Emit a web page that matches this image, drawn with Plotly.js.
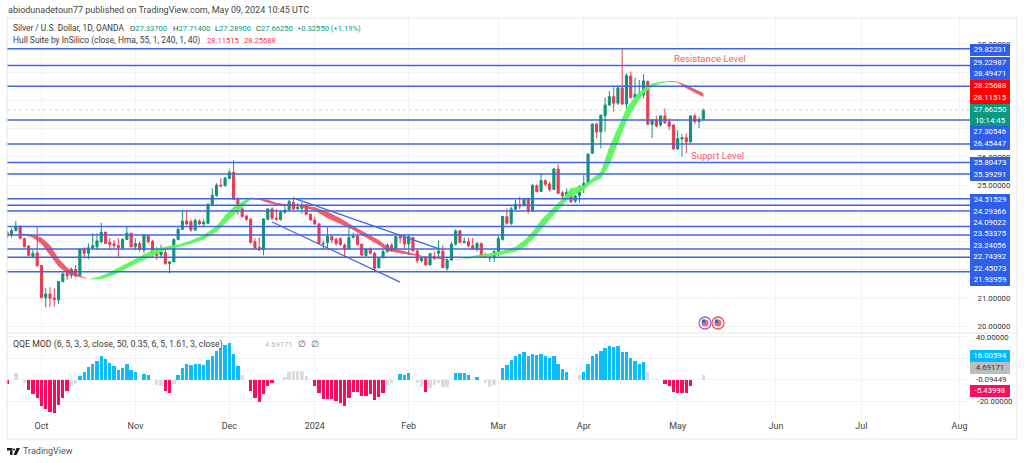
<!DOCTYPE html>
<html>
<head>
<meta charset="utf-8">
<script src="https://cdn.plot.ly/plotly-3.0.1.min.js"></script>
<style>
  html, body { margin: 0; padding: 0; background: #fff; }
  #chart { width: 1024px; height: 463px; }
</style>
</head>
<body>
<div id="chart"></div>
<script>
// values, one entry per trading day
const opens = [23.32,23.23,23.39,23.53,23.11,22.85,22.49,22.60,22.16,21.02,21.15,21.01,20.94,21.59,21.88,21.81,22.02,21.81,22.73,22.59,
  22.78,22.82,22.99,23.34,22.97,22.93,22.87,22.78,23.08,23.30,22.82,22.94,22.71,23.20,23.01,22.62,22.53,22.62,22.23,22.29,
  23.08,23.44,23.73,23.71,23.41,23.73,23.63,23.65,24.30,24.63,25.00,24.98,25.24,25.45,24.50,24.16,23.91,23.80,23.00,22.80,
  22.73,23.79,24.16,23.83,23.79,24.04,24.12,24.39,24.17,24.18,24.30,23.97,23.77,23.63,22.92,22.97,23.18,23.08,23.12,22.88,
  22.74,23.15,23.20,22.91,22.51,22.73,22.59,22.08,22.44,22.65,22.88,22.77,23.18,23.15,22.92,23.15,22.67,22.33,22.45,22.18,
  22.47,22.59,22.67,22.06,22.35,22.91,23.39,22.97,23.00,22.86,22.73,22.94,22.49,22.42,22.47,22.65,23.08,23.89,23.65,24.15,
  24.30,24.28,24.50,24.10,24.98,24.78,25.16,25.04,24.85,25.57,24.73,24.63,24.65,24.44,24.63,24.95,25.07,26.13,27.16,26.89,
  27.46,27.84,28.13,27.90,28.44,27.87,28.86,28.10,28.19,28.19,28.67,27.15,27.31,27.13,27.45,27.24,27.13,26.28,26.63,26.68,
  26.53,27.45,27.25,27.337]
const highs = [23.41,23.47,23.74,23.59,23.15,22.88,22.71,23.51,22.18,21.35,21.39,21.35,21.61,21.94,22.00,22.09,22.18,22.77,22.80,22.94,
  23.30,23.30,23.67,23.35,23.15,23.06,23.12,23.12,23.56,23.32,23.12,23.00,23.27,23.24,23.06,22.82,22.88,22.71,22.29,23.12,
  23.51,24.10,24.10,23.79,23.83,23.79,23.79,24.36,24.89,25.07,25.24,25.30,25.54,25.89,24.57,24.22,23.94,23.83,23.12,23.15,
  23.83,24.18,24.22,24.15,24.12,24.30,24.48,24.57,24.36,24.42,24.32,24.00,23.89,23.65,23.04,23.51,23.20,23.15,23.15,22.94,
  23.53,23.32,23.30,22.94,22.77,22.80,22.65,22.45,22.71,22.94,22.94,23.20,23.27,23.27,23.24,23.18,22.71,22.47,22.49,22.61,
  22.65,23.04,22.88,22.41,23.00,23.44,23.41,23.15,23.15,23.14,22.99,22.97,22.61,22.49,22.71,23.20,23.92,24.18,24.24,24.48,
  24.59,24.53,24.57,25.03,25.03,25.40,25.21,25.12,25.62,25.74,24.80,24.89,24.89,24.65,25.00,25.36,26.13,27.19,27.21,27.48,
  28.10,28.33,28.46,28.54,29.85,28.96,29.02,28.80,28.72,28.93,28.70,27.33,27.45,27.48,27.71,27.36,27.15,26.95,26.81,26.83,
  27.47,27.52,27.42,27.714]
const lows = [23.12,23.15,23.38,23.08,22.80,22.47,22.41,22.12,21.00,20.68,20.70,20.70,20.80,21.56,21.65,21.70,21.74,21.76,22.41,22.38,
  22.73,22.71,22.94,22.92,22.71,22.77,22.47,22.71,23.06,22.80,22.71,22.65,22.59,22.94,22.45,22.35,22.41,22.18,21.88,22.27,
  23.04,23.41,23.59,23.35,23.38,23.59,23.56,23.63,24.26,24.59,24.92,24.95,25.21,24.48,23.94,23.85,23.74,22.94,22.74,22.68,
  22.52,23.77,23.77,23.74,23.74,24.00,24.10,24.10,24.12,24.00,23.94,23.74,23.59,22.92,22.71,22.77,22.94,22.86,22.85,22.47,
  22.71,23.12,22.87,22.49,22.47,22.55,21.98,22.05,22.40,22.61,22.64,22.74,22.94,22.73,22.53,22.65,22.23,22.28,22.16,22.14,
  22.35,22.41,22.05,21.98,22.33,22.86,22.94,22.94,22.80,22.71,22.65,22.47,22.41,22.28,22.29,22.49,23.04,23.60,23.58,24.12,
  24.15,24.24,24.00,24.07,24.75,24.76,24.97,24.77,24.83,24.69,24.42,24.53,24.36,24.36,24.38,24.71,25.04,26.10,26.66,26.30,
  26.89,27.80,27.60,27.84,27.84,27.60,28.07,28.07,28.13,28.07,27.13,26.66,27.05,27.07,27.16,26.95,26.26,26.25,26.01,26.13,
  26.50,27.16,27.01,27.289]
const closes = [23.20,23.39,23.53,23.12,22.82,22.52,22.59,22.15,21.02,21.15,21.00,20.95,21.59,21.86,21.79,22.02,21.79,22.73,22.59,22.79,
  22.86,23.03,23.34,22.94,22.90,22.86,22.79,23.08,23.30,22.82,22.93,22.73,23.24,23.00,22.62,22.51,22.64,22.23,22.29,23.08,
  23.44,23.73,23.63,23.41,23.75,23.63,23.69,24.32,24.64,25.00,24.97,25.25,25.45,24.50,24.15,23.89,23.79,22.97,22.79,22.71,
  23.80,24.16,23.83,23.79,24.04,24.12,24.42,24.16,24.22,24.30,23.97,23.77,23.63,22.94,22.94,23.18,23.06,22.94,22.90,22.73,
  23.15,23.20,22.90,22.53,22.73,22.59,22.06,22.41,22.65,22.88,22.71,23.18,23.13,22.92,23.18,22.68,22.33,22.44,22.18,22.58,
  22.41,22.67,22.09,22.35,22.91,23.38,22.98,23.01,22.86,22.74,22.94,22.49,22.45,22.45,22.65,23.12,23.89,23.65,24.16,24.33,
  24.26,24.50,24.09,25.00,24.77,25.16,25.03,24.85,25.57,24.71,24.62,24.75,24.42,24.62,24.95,25.07,26.10,27.16,26.88,27.48,
  27.84,28.13,27.90,28.44,27.87,28.87,28.10,28.21,28.23,28.69,27.15,27.31,27.09,27.45,27.21,27.09,26.28,26.65,26.68,26.53,
  27.45,27.25,27.32,27.6625]

// Hull Suite band, sampled along its length
const hullRedAIdx = [3,6,8,10,12,14,16,19]
const hullRedAUp = [23.30,23.25,23.15,22.88,22.41,22.09,21.88,21.67]
const hullRedALo = [23.27,23.15,22.92,22.53,22.12,21.88,21.79,21.67]
const hullGreenAIdx = [19,22,25,28,31,34,37,40,43,46,49,51,53,55,57]
const hullGreenAUp = [21.67,21.79,22.00,22.23,22.47,22.71,22.82,22.90,23.04,23.24,23.56,23.94,24.24,24.42,24.56]
const hullGreenALo = [21.67,21.67,21.82,22.06,22.29,22.49,22.71,22.80,22.92,23.08,23.35,23.63,23.94,24.22,24.50]
const hullRedBIdx = [57,59,61,63,65,68,72,75,78,81,84,87,89,92,95,98,101,104]
const hullRedBUp = [24.56,24.53,24.48,24.38,24.33,24.32,24.22,24.06,23.83,23.56,23.30,23.06,22.82,22.71,22.59,22.47,22.44,22.35]
const hullRedBLo = [24.51,24.48,24.38,24.30,24.27,24.26,24.10,23.83,23.63,23.41,23.15,22.88,22.68,22.59,22.52,22.45,22.40,22.35]
const hullGreenBIdx = [104,107,110,113,116,119,121,123,125,128,130,132,135,137,139,141,143,145,147,149,151,153,155]
const hullGreenBUp = [22.35,22.41,22.53,22.59,22.68,22.82,23.04,23.35,23.77,24.24,24.53,24.89,25.00,25.24,25.48,26.36,27.07,27.72,28.13,28.43,28.60,28.66,28.69]
const hullGreenBLo = [22.35,22.38,22.45,22.49,22.55,22.65,22.80,23.08,23.41,23.94,24.30,24.59,24.83,25.09,25.24,25.71,26.48,27.25,27.78,28.23,28.46,28.60,28.66]
const hullRedCIdx = [155,157,159,161,163]
const hullRedCUp = [28.69,28.66,28.54,28.39,28.25688]
const hullRedCLo = [28.66,28.63,28.43,28.27,28.11515]

// support / resistance drawings
const levels = [29.82231,29.22987,28.49471,27.30546,26.45447,25.80473,25.39291,24.51529,24.29366,24.09022,23.53375,23.24056,22.74392,22.45073,21.93959]
const lastPrice = 27.6625
const channelTopIdx = [66.9,101.3]
const channelTop = [24.55,22.74]
const channelBottomIdx = [62,92]
const channelBottom = [23.70,21.57]

// QQE MOD histogram, kind: b blue, r red, g grey, - no bar
const qqeValues = [-3.7,null,5.9,null,-3.4,-10,-13.7,-17.4,-24.6,-27.7,-29.9,-31.5,-24,-17.4,-10.9,-5.9,-4.4,3.4,7.5,11.8,
  14.3,17.8,22.1,19,15.3,12.8,9,10.9,14.3,9,7.5,null,5.3,4.7,null,-5,-5.9,-10.3,-12.1,-4,
  4,10.6,15,14,14.6,14.3,14,18.4,22.4,26.8,29.6,32.7,34.6,23.7,13.1,4,null,-10.6,-16.8,-20.9,
  -13.4,-5.9,-2.8,null,null,2.8,7.5,7.8,7.8,7.8,3.7,null,-5.9,-12.8,-18.4,-18.4,-18.4,-19.6,-22,-24.3,
  -16.8,-11.2,-11.8,-15,-15,-13.7,-19,-16.5,-12.1,-5,-3.4,null,5.3,4.4,5.9,null,-3.4,-7.2,-11.2,-8.1,
  -5,-3.4,-7.2,-7.2,null,5.9,5.9,5.9,4.4,null,2.8,null,-3,-6.5,-5,null,11.2,13.7,18.4,22.4,
  24,26.2,22.1,24,22.7,23.7,22.4,19.9,22.1,14.6,9.7,6.9,null,null,4,6.9,14.6,22.1,24,27.1,
  29.3,31.5,30.8,31.5,26.2,26.2,20.6,17.4,14.6,16.2,6.9,null,null,null,-4,-5.9,-11.8,-12.1,-12.1,-12.8,
  -5.44,null,null,4.69171]
const qqeKinds = ['r-g-g','rrrrrrrrrr','gg','bbbbbbbbbbbbbb','-','bb','-','gg','rr','g','bbbbbbbbbbbbbbb','g','-','rrrrrr','--','gggggg','-',
  'rrrrrrrrrrrrrrrrr','gg','-','bbb','-','gg','r','ggggg','-','bbbb','-','b','-','ggg','-','bbbbbbbbbbbbbbbb','--','g','bbbbbbbbbbbbbbb','g','---','rrrrrrr','--','g'].join('')

// time axis: trading day index of each month start
const monthIdx = [8,30,52,72,94,115,135,157,180,200,223]
const monthLabels = ['Oct','Nov','Dec','2024','Feb','Mar','Apr','May','Jun','Jul','Aug']

const priceTicks = [20,21,22,23,24,25,26,27,28,29,30]
const priceTickText = ['20.00000','21.00000','','','','25.00000','26.00000','','','','30.00000']
const qqeTicks = [40,20,0,-20]
const qqeTickText = ['','','','-20.00000']

// right scale tags: text, centre pixel, background
const blue = '#2f5fea'
const scaleTags = [
  ['29.82231',50,blue],['29.22987',62.7,blue],['28.49471',74.3,blue],
  ['28.25688',86,'#ff0000'],['28.11515',97.7,'#ff0000'],
  ['27.66250<br>10:14:45',115,'#089981'],
  ['27.30546',131.7,blue],['26.45447',144.3,blue],['25.80473',163,blue],['25.39291',175,blue],
  ['24.51529',200,blue],['24.29366',211.5,blue],['24.09022',223,blue],['23.53375',234.4,blue],
  ['23.24056',246,blue],['22.74392',257.2,blue],['22.45073',268.7,blue],['21.93959',280,blue],
  ['16.00594',356,'#00bcff'],['4.69171',368,'#bdbdbd'],['-5.43998',391,'#ff0a60']
]

const textFont = 'Roboto, sans-serif'
const valueSize = 7.6
const scaleSize = 7.8
const pxX = x => (x - 7) / 963
const pxY = y => (419 - y) / 401

function note(text, x, y, size, color, anchor) {
  return { text: text, xref: 'paper', yref: 'paper', x: pxX(x), y: pxY(y), xanchor: anchor || 'left', yanchor: 'middle',
    showarrow: false, borderpad: 0, font: { family: textFont, size: size, color: color } }
}

function band(idx, up, lo, color) {
  return {
    x: idx.concat(idx.slice().reverse()),
    y: up.concat(lo.slice().reverse()),
    type: 'scatter', mode: 'lines', fill: 'toself', fillcolor: color,
    line: { width: 0 }, hoverinfo: 'skip', xaxis: 'x', yaxis: 'y'
  }
}

const dayIdx = closes.map((c, i) => i)
const hullRed = 'rgba(240,65,80,0.85)'
const hullGreen = 'rgba(90,245,90,0.95)'

const traces = [
  {
    x: dayIdx, open: opens, high: highs, low: lows, close: closes,
    type: 'candlestick', xaxis: 'x', yaxis: 'y', whiskerwidth: 0, hoverinfo: 'skip',
    increasing: { line: { color: '#0f9279', width: 1 }, fillcolor: '#0f9279' },
    decreasing: { line: { color: '#ea3a50', width: 1 }, fillcolor: '#ea3a50' }
  },
  band(hullRedAIdx, hullRedAUp, hullRedALo, hullRed),
  band(hullGreenAIdx, hullGreenAUp, hullGreenALo, hullGreen),
  band(hullRedBIdx, hullRedBUp, hullRedBLo, hullRed),
  band(hullGreenBIdx, hullGreenBUp, hullGreenBLo, hullGreen),
  band(hullRedCIdx, hullRedCUp, hullRedCLo, hullRed),
  { x: channelTopIdx, y: channelTop, type: 'scatter', mode: 'lines', line: { color: '#3f66e0', width: 1.2 }, hoverinfo: 'skip' },
  { x: channelBottomIdx, y: channelBottom, type: 'scatter', mode: 'lines', line: { color: '#3f66e0', width: 1.2 }, hoverinfo: 'skip' },
  {
    x: dayIdx, y: qqeValues, type: 'bar', xaxis: 'x', yaxis: 'y2', width: 0.78, hoverinfo: 'skip',
    marker: { color: qqeValues.map((v, i) => ({ b: '#0ebcfc', r: '#fb0a60', g: '#dcdcdc' })[qqeKinds[i]] || '#ffffff'), line: { width: 0 } }
  }
]

const shapes = levels.map(v => ({
  type: 'line', xref: 'paper', yref: 'y', x0: 0, x1: 1, y0: v, y1: v, line: { color: '#3f66e0', width: 1.5 }
}))
shapes.push({ type: 'line', xref: 'paper', yref: 'y', x0: 0, x1: 1, y0: lastPrice, y1: lastPrice, line: { color: '#a6dccf', width: 0.8, dash: 'dot' } })
// chart frame and pane divider
shapes.push({ type: 'rect', xref: 'paper', yref: 'paper', x0: 0, x1: pxX(1017), y0: pxY(439), y1: pxY(18), line: { color: '#e6e6e6', width: 1 } })
shapes.push({ type: 'line', xref: 'paper', yref: 'paper', x0: 0, x1: pxX(1017), y0: pxY(333), y1: pxY(333), line: { color: '#e6e6e6', width: 1 } })
// currency icons on the time line
const iconRings = [[705, '#a45cc8'], [718, '#f0505a']]
iconRings.forEach(r => {
  shapes.push({ type: 'circle', xref: 'paper', yref: 'paper', x0: pxX(r[0] - 6), x1: pxX(r[0] + 6), y0: pxY(329), y1: pxY(317), fillcolor: '#ffffff', line: { color: r[1], width: 1.3 } })
  shapes.push({ type: 'circle', xref: 'paper', yref: 'paper', x0: pxX(r[0] - 3.5), x1: pxX(r[0] + 3.5), y0: pxY(326.5), y1: pxY(319.5), fillcolor: '#e86a70', line: { width: 0 } })
  shapes.push({ type: 'rect', xref: 'paper', yref: 'paper', x0: pxX(r[0] - 3), x1: pxX(r[0]), y0: pxY(323), y1: pxY(319.5), fillcolor: '#3f62c8', line: { width: 0 } })
})
// TradingView mark
const logoDark = '#1a1a1a'
shapes.push({ type: 'rect', xref: 'paper', yref: 'paper', x0: pxX(7), x1: pxX(12.5), y0: pxY(450.5), y1: pxY(448), fillcolor: logoDark, line: { width: 0 } })
shapes.push({ type: 'rect', xref: 'paper', yref: 'paper', x0: pxX(10), x1: pxX(12.5), y0: pxY(455), y1: pxY(450.5), fillcolor: logoDark, line: { width: 0 } })
shapes.push({ type: 'circle', xref: 'paper', yref: 'paper', x0: pxX(13), x1: pxX(15), y0: pxY(450.5), y1: pxY(448.5), fillcolor: logoDark, line: { width: 0 } })
shapes.push({ type: 'path', xref: 'paper', yref: 'paper', line: { width: 0 }, fillcolor: logoDark,
  path: `M ${pxX(16.5)} ${pxY(448)} L ${pxX(20)} ${pxY(448)} L ${pxX(16.5)} ${pxY(455)} L ${pxX(13.5)} ${pxY(455)} Z` })

const green = '#089981'
const g = s => `<span style="color:${green}">${s}</span>`
const titleColor = '#3a3a3a'
const redValue = '#f7323f'

const annotations = [
  note('abiodunadetoun77 published on TradingView.com, May 09, 2024 10:45 UTC', 7, 10, 9, '#444444'),
  note('Silver / U.S. Dollar, 1D, OANDA', 12, 28, 8.35, titleColor),
  note('O' + g('27.33700'), 129, 28, valueSize, titleColor),
  note('H' + g('27.71400'), 172, 28, valueSize, titleColor),
  note('L' + g('27.28900'), 213.5, 28, valueSize, titleColor),
  note('C' + g('27.66250'), 255, 28, valueSize, titleColor),
  note('+0.32550 (+1.19%)', 295.5, 28, valueSize, green),
  note('Hull Suite by InSilico (close, Hma, 55, 1, 240, 1, 40)', 12, 40, 8.45, titleColor),
  note('28.11515', 206, 40, valueSize, redValue),
  note('28.25688', 242.7, 40, valueSize, redValue),
  note('QQE MOD (6, 5, 3, 3, close, 50, 0.35, 6, 5, 1.61, 3, close)', 12, 344, 8.75, titleColor),
  note('4.69171', 264, 344, valueSize, '#b4b4b4'),
  note('∅', 297, 344, 9, '#555555'),
  note('∅', 310, 344, 9, '#555555'),
  note('40.00000', 975, 337, scaleSize, '#333333'),
  note('-0.09449', 975, 379, scaleSize, '#333333'),
  note('TradingView', 22, 451, 9, '#555555'),
  { text: 'Resistance Level', xref: 'x', yref: 'y', x: 164.5, y: 29.47, showarrow: false, font: { family: textFont, size: 9.6, color: '#f0616d' } },
  { text: 'Supprt Level', xref: 'x', yref: 'y', x: 166.4, y: 26.04, showarrow: false, font: { family: textFont, size: 9.6, color: '#f0616d' } }
]
scaleTags.forEach(t => {
  const twoLine = t[0].includes('<br>')
  const greyTag = t[2] === '#bdbdbd'
  annotations.push({
    text: t[0], xref: 'paper', yref: 'paper', x: pxX(990), y: pxY(t[1]), xanchor: 'center', yanchor: 'middle',
    showarrow: false, width: 40, height: twoLine ? 22 : 11.6, bgcolor: t[2], borderpad: 0, borderwidth: 0, align: 'center',
    font: { family: textFont, size: scaleSize, color: greyTag ? '#333333' : '#ffffff' }
  })
})

const layout = {
  width: 1024,
  height: 463,
  margin: { l: 7, r: 54, t: 18, b: 44, pad: 0 },
  paper_bgcolor: '#ffffff',
  plot_bgcolor: '#ffffff',
  showlegend: false,
  bargap: 0,
  hovermode: false,
  font: { family: textFont, size: scaleSize, color: '#333333' },
  xaxis: {
    domain: [0, 1], anchor: 'y2', range: [-0.07, 225.45], rangeslider: { visible: false },
    tickmode: 'array', tickvals: monthIdx, ticktext: monthLabels, tickfont: { size: 9, color: '#444444' },
    ticks: '', ticklen: 0, showgrid: true, gridcolor: '#f2f3f5', gridwidth: 1, zeroline: false, showline: false
  },
  yaxis: {
    domain: [pxY(333), 1], anchor: 'x', side: 'right', range: [19.771, 30.913],
    tickmode: 'array', tickvals: priceTicks, ticktext: priceTickText,
    ticks: 'outside', ticklen: 5, tickcolor: '#ffffff', showgrid: true, gridcolor: '#f2f3f5', zeroline: false, showline: false
  },
  yaxis2: {
    domain: [0, pxY(333)], anchor: 'x', side: 'right', range: [-36.73, 43.64],
    tickmode: 'array', tickvals: qqeTicks, ticktext: qqeTickText,
    ticks: 'outside', ticklen: 5, tickcolor: '#ffffff', showgrid: true, gridcolor: '#f2f3f5', zeroline: false, showline: false
  },
  shapes: shapes,
  annotations: annotations
}

Plotly.newPlot('chart', traces, layout, { displayModeBar: false, staticPlot: true })
</script>
</body>
</html>
